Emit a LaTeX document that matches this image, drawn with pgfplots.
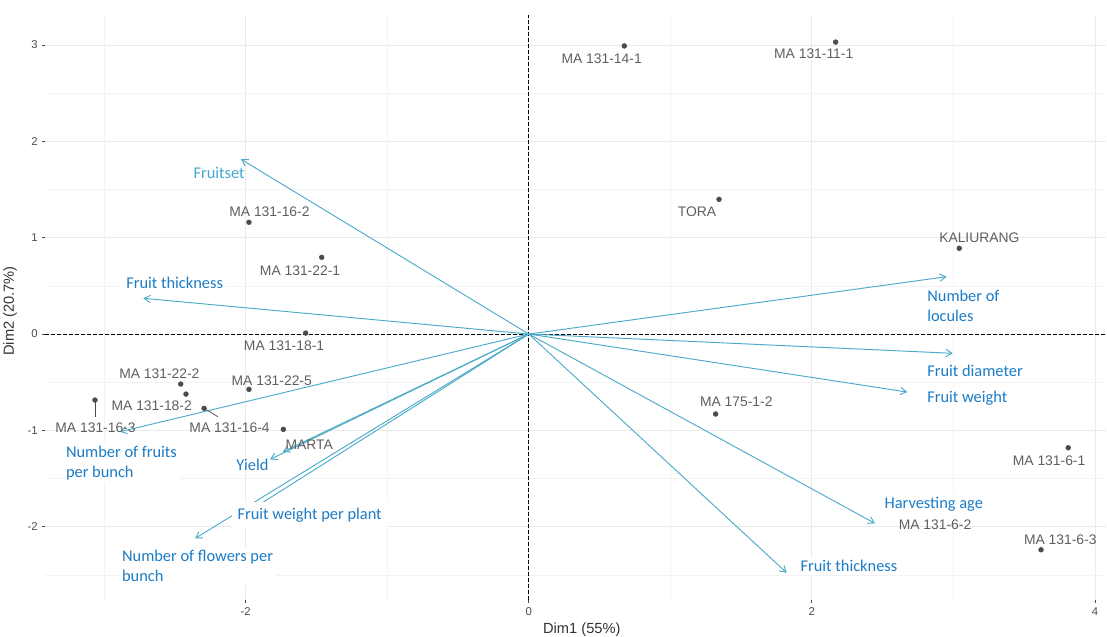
\documentclass[border=0pt]{standalone}
\usepackage{fontspec}
\setmainfont{Liberation Sans}
\newfontfamily\calibri{Carlito}
\usepackage{pgfplots}
\pgfplotsset{compat=1.18}
\usetikzlibrary{arrows.meta}
\definecolor{arrowc}{RGB}{74,171,201}
\definecolor{labblue}{RGB}{28,124,198}
\definecolor{fsblue}{RGB}{64,168,208}
\definecolor{ptgrey}{RGB}{75,75,75}
\definecolor{txtgrey}{RGB}{95,95,95}
\definecolor{tickgrey}{RGB}{77,77,77}
\definecolor{gridmaj}{RGB}{234,234,234}
\definecolor{gridmin}{RGB}{243,243,243}
\tikzset{
  arr/.style={arrowc, line width=0.7pt, -{Straight Barb[length=4.5pt,width=5.5pt]}},
  glab/.style={text=txtgrey, font=\fontsize{10.4}{12}\selectfont, inner sep=0pt},
  blab/.style={text=labblue, font=\calibri\fontsize{12.3}{14.7}\selectfont, fill=white, inner sep=2.5pt, align=left},
}
\begin{document}
\begin{tikzpicture}
\begin{axis}[
 scale only axis, width=795.75pt, height=438.75pt,
 xmin=-3.418, xmax=4.078, ymin=-2.76, ymax=3.311,
 axis line style={draw=none},
 tick pos=left, tick align=outside,
 major tick length=2pt, minor tick length=0pt,
 tick style={tickgrey, line width=0.6pt},
 xtick={-2,0,2,4}, ytick={-2,-1,0,1,2,3},
 minor xtick={-3,-1,1,3}, minor ytick={-2.5,-1.5,-0.5,0.5,1.5,2.5},
 grid=both,
 major grid style={gridmaj, line width=0.6pt},
 minor grid style={gridmin, line width=0.5pt},
 /pgf/number format/assume math mode=true,
 ticklabel style={font=\fontsize{8.5}{10}\selectfont, text=tickgrey},
 xlabel={Dim1 (55\%)}, ylabel={Dim2 (20.7\%)},
 label style={font=\fontsize{11}{13}\selectfont, text=black!80},
 xlabel style={at={(axis description cs:0.506,-0.0513)}, anchor=center},
 ylabel style={at={(axis description cs:-0.033,0.494)}, anchor=center},
 clip=false,
]
% zero lines
\addplot[black, line width=0.6pt, dash pattern=on 3pt off 1.5pt] coordinates {(-3.418,0) (4.078,0)};
\addplot[black, line width=0.6pt, dash pattern=on 3pt off 1.5pt] coordinates {(0,-2.76) (0,3.311)};

% variable arrows
\addplot[arr] coordinates {(0,0) (-2.033,1.814)};   % Fruitset
\addplot[arr] coordinates {(0,0) (-2.723,0.371)};   % Fruit thickness (left)
\addplot[arr] coordinates {(0,0) (2.952,0.595)};    % Number of locules
\addplot[arr] coordinates {(0,0) (2.995,-0.200)};   % Fruit diameter
\addplot[arr] coordinates {(0,0) (2.674,-0.602)};   % Fruit weight
\addplot[arr] coordinates {(0,0) (2.446,-1.965)};   % Harvesting age
\addplot[arr] coordinates {(0,0) (1.822,-2.478)};   % Fruit thickness (right)
\addplot[arr] coordinates {(0,0) (-2.888,-1.014)};  % Number of fruits per bunch
\addplot[arr] coordinates {(0,0) (-1.828,-1.301)};  % Yield
\addplot[arr] coordinates {(0,0) (-1.737,-1.222)};  % (second arrow near Yield)
\addplot[arr] coordinates {(0,0) (-2.358,-2.121)};  % Number of flowers per bunch
\addplot[arr] coordinates {(0,0) (-2.000,-1.860)};  % Fruit weight per plant

% repel segments
\addplot[ptgrey, line width=0.5pt] coordinates {(-3.065,-0.685) (-3.065,-0.858)};
\addplot[ptgrey, line width=0.5pt] coordinates {(-2.294,-0.771) (-2.196,-0.858)};

% individuals
\addplot[only marks, mark=*, mark size=1.8pt, color=ptgrey] coordinates {
 (0.675,2.990) (2.168,3.030) (1.344,1.398) (3.041,0.890)
 (-1.977,1.160) (-1.463,0.796) (-1.576,0.010) (-1.977,-0.574)
 (-2.459,-0.519) (-2.422,-0.623) (-2.294,-0.771) (-3.065,-0.685)
 (-1.734,-0.989) (1.320,-0.830) (3.811,-1.180) (3.619,-2.239)
};

% individual labels
\node[glab] at (axis cs:0.515,2.855) {MA 131-14-1};
\node[glab] at (axis cs:2.013,2.907) {MA 131-11-1};
\node[glab] at (axis cs:1.188,1.266) {TORA};
\node[glab] at (axis cs:3.183,0.997) {KALIURANG};
\node[glab] at (axis cs:-1.832,1.266) {MA 131-16-2};
\node[glab] at (axis cs:-1.616,0.654) {MA 131-22-1};
\node[glab] at (axis cs:-1.729,-0.125) {MA 131-18-1};
\node[glab] at (axis cs:-1.816,-0.481) {MA 131-22-5};
\node[glab] at (axis cs:-2.610,-0.415) {MA 131-22-2};
\node[glab] at (axis cs:-2.664,-0.742) {MA 131-18-2};
\node[glab] at (axis cs:-3.061,-0.976) {MA 131-16-3};
\node[glab] at (axis cs:-2.114,-0.971) {MA 131-16-4};
\node[glab] at (axis cs:-1.551,-1.149) {MARTA};
\node[glab] at (axis cs:1.466,-0.706) {MA 175-1-2};
\node[glab] at (axis cs:3.676,-1.313) {MA 131-6-1};
\node[glab] at (axis cs:3.755,-2.138) {MA 131-6-3};

% variable labels
\node[blab, text=fsblue, fill=none] at (axis cs:-2.188,1.671) {Fruitset};
\node[blab] at (axis cs:-2.502,0.535) {Fruit thickness};
\node[blab, anchor=west] at (axis cs:2.790,0.291) {Number of\\locules};
\node[blab, anchor=west] at (axis cs:2.790,-0.380) {Fruit diameter};
\node[blab, anchor=west] at (axis cs:2.790,-0.665) {Fruit weight};
\node[blab] at (axis cs:2.861,-1.770) {Harvesting age};
\node[glab] at (axis cs:2.870,-1.974) {MA 131-6-2};
\node[blab] at (axis cs:2.262,-2.408) {Fruit thickness};
\node[blab, anchor=west] at (axis cs:-3.295,-1.339) {Number of fruits\\per bunch};
\node[blab, fill=none] at (axis cs:-1.952,-1.360) {Yield};
\node[blab, inner sep=4.5pt] at (axis cs:-1.548,-1.880) {Fruit weight per plant};
\node[blab, anchor=west] at (axis cs:-2.899,-2.408) {Number of flowers per\\bunch};

\coordinate (BL) at (rel axis cs:-0.04241,-0.06154);
\coordinate (TR) at (rel axis cs:1.00094,1.02564);
\end{axis}
\pgfresetboundingbox
\path[use as bounding box] (BL) rectangle (TR);
\end{tikzpicture}
\end{document}
